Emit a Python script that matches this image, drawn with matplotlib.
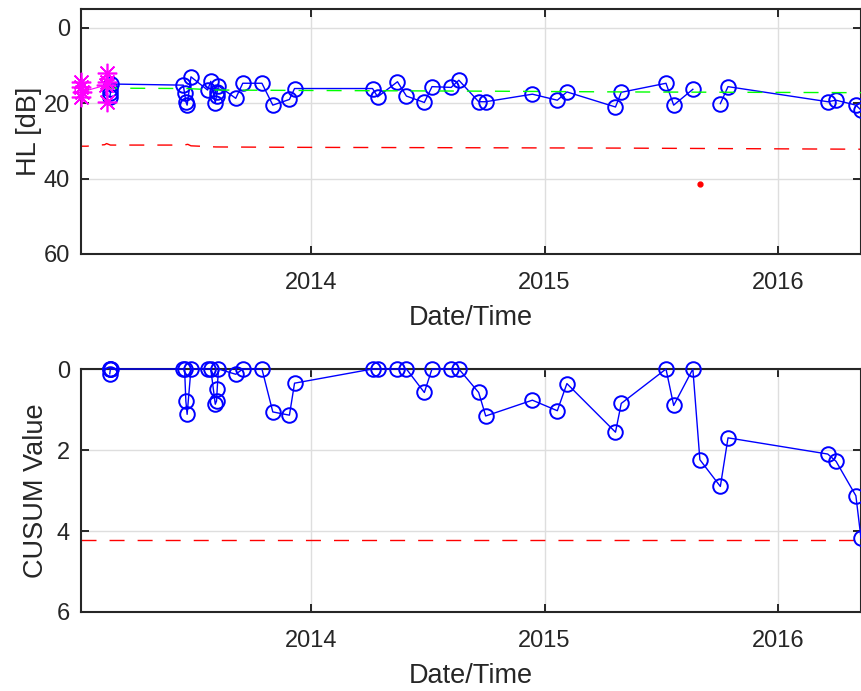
import numpy as np
import pandas as pd
import matplotlib
matplotlib.use('Agg')
import matplotlib.pyplot as plt
import matplotlib.dates as mdates

# baseline audiograms (magenta stars)
base_dates = ['2013-01-06', '2013-01-06', '2013-01-06', '2013-01-07',
              '2013-02-14', '2013-02-15', '2013-02-15', '2013-02-16']
base_hl = [14.3, 18.3, 15.6, 17.0, 15.2, 12.1, 14.3, 19.6]

# follow-up measurements
meas_dates = ['2013-02-20', '2013-02-21', '2013-02-21', '2013-02-22',
              '2013-06-15', '2013-06-17', '2013-06-19', '2013-06-21', '2013-06-27',
              '2013-07-23', '2013-07-28', '2013-08-04', '2013-08-06', '2013-08-07', '2013-08-09',
              '2013-09-05', '2013-09-16', '2013-10-16', '2013-11-02', '2013-11-28', '2013-12-06',
              '2014-04-07', '2014-04-15', '2014-05-16', '2014-05-30', '2014-06-27', '2014-07-09',
              '2014-08-08', '2014-08-20', '2014-09-20', '2014-10-01', '2014-12-13',
              '2015-01-21', '2015-02-05', '2015-04-22', '2015-05-01', '2015-07-10',
              '2015-07-22', '2015-08-21', '2015-09-01', '2015-10-03', '2015-10-15',
              '2016-03-19', '2016-04-01', '2016-05-02', '2016-05-10']
hl = [18.3, 17.4, 16.1, 14.9,
      15.2, 17.4, 19.6, 20.5, 13.0,
      16.5, 14.2, 19.9, 18.0, 17.0, 15.4,
      18.7, 14.7, 14.7, 20.5, 19.0, 16.1,
      16.1, 18.3, 14.3, 18.1, 19.8, 15.6,
      15.8, 13.9, 19.6, 19.6, 17.6,
      19.2, 17.0, 21.0, 17.1, 14.7,
      20.5, 16.3, 41.5, 20.1, 15.6,
      19.6, 19.2, 20.5, 21.8]
cusum = [0.12, 0.0, 0.0, 0.0,
         0.0, 0.0, 0.79, 1.12, 0.0,
         0.0, 0.0, 0.87, 0.79, 0.5, 0.0,
         0.13, 0.0, 0.0, 1.06, 1.14, 0.35,
         0.0, 0.0, 0.0, 0.0, 0.58, 0.0,
         0.0, 0.0, 0.58, 1.16, 0.77,
         1.03, 0.36, 1.56, 0.85, 0.0,
         0.9, 0.0, 2.24, 2.9, 1.7,
         2.1, 2.28, 3.13, 4.18]

# running mean (green) and upper limit (red)
mean_dates = ['2013-01-06', '2013-01-06', '2013-02-21', '2013-06-20', '2013-08-08',
              '2013-12-06', '2014-10-01', '2015-05-01', '2016-05-10']
mean_hl = [18.3, 16.5, 16.0, 16.1, 16.5, 16.6, 16.8, 17.0, 17.2]
limit_dates = ['2013-01-06', '2013-01-06', '2013-01-15', '2013-02-12', '2013-02-15',
               '2013-02-21', '2013-06-16', '2013-06-22', '2013-06-27', '2013-08-05',
               '2013-12-06', '2015-04-22', '2016-05-10']
limit_hl = [33.3, 31.4, 31.4, 31.0, 30.7, 31.1, 31.1, 30.9, 31.3, 31.6, 31.7, 31.9, 32.2]

cusum_threshold = 4.21

base_t = pd.to_datetime(base_dates)
meas_t = pd.to_datetime(meas_dates)
mean_t = pd.to_datetime(mean_dates)
limit_t = pd.to_datetime(limit_dates)
hl = np.array(hl)

# points above the limit are outliers: shown as red dots, line broken there
lim_at_meas = np.interp(mdates.date2num(meas_t), mdates.date2num(limit_t), limit_hl)
outlier = hl > lim_at_meas
hl_line = np.where(outlier, np.nan, hl)

plt.rcParams['font.family'] = ['Liberation Sans', 'DejaVu Sans']
ink = (0.15, 0.15, 0.15)
dash = (10.8, 9.4)

fig = plt.figure(figsize=(8.62, 6.91), dpi=100)
W, H = 862.0, 691.0
ax1 = fig.add_axes([81 / W, 1 - 254 / H, 780 / W, 245 / H])
ax2 = fig.add_axes([81 / W, 1 - 612 / H, 780 / W, 243 / H])

ax1.plot(limit_t, limit_hl, color='r', lw=1.0, dashes=dash, zorder=2)
ax1.plot(meas_t, hl_line, color='b', lw=1.0, marker='o', ms=10.5, mfc='none',
         mew=1.4, clip_on=False, zorder=3)
ax1.plot(meas_t[outlier], hl[outlier], 'o', color='r', ms=3.5, zorder=3)
ax1.plot(mean_t, mean_hl, color=(0, 1, 0), lw=1.0, dashes=dash, zorder=4)
ax1.plot(base_t, base_hl, color=(1, 0, 1), lw=0.8, marker=(8, 2, 0), ms=14, mew=1.2,
         clip_on=False, zorder=5)

ax2.plot(meas_t, cusum, color='b', lw=1.0, marker='o', ms=10.5, mfc='none',
         mew=1.4, clip_on=False, zorder=3)
ax2.axhline(cusum_threshold, color='r', lw=1.0, dashes=dash, zorder=2)

x0, x1 = base_t.min(), meas_t.max()
for ax, ylab, ylim, yt, labx in [(ax1, 'HL [dB]', (60, -5), [0, 20, 40, 60], -0.050),
                                 (ax2, 'CUSUM Value', (6, 0), [0, 2, 4, 6], -0.041)]:
    ax.set_xlim(x0, x1)
    ax.set_ylim(*ylim)
    ax.set_yticks(yt)
    ax.xaxis.set_major_locator(mdates.YearLocator())
    ax.xaxis.set_major_formatter(mdates.DateFormatter('%Y'))
    ax.grid(True, color='#dedede', lw=1.0)
    ax.set_axisbelow(True)
    ax.tick_params(direction='in', length=6, width=1.4, colors=ink,
                   labelsize=17, top=True, right=True)
    ax.tick_params(axis='x', pad=13)
    ax.tick_params(axis='y', pad=8)
    for s in ax.spines.values():
        s.set_linewidth(1.5)
        s.set_color(ink)
    ax.set_xlabel('Date/Time', fontsize=19.5, color=ink, labelpad=8)
    ax.set_ylabel(ylab, fontsize=19.5, color=ink)
    ax.yaxis.set_label_coords(labx, 0.5)

fig.savefig('out.png', dpi=100)
